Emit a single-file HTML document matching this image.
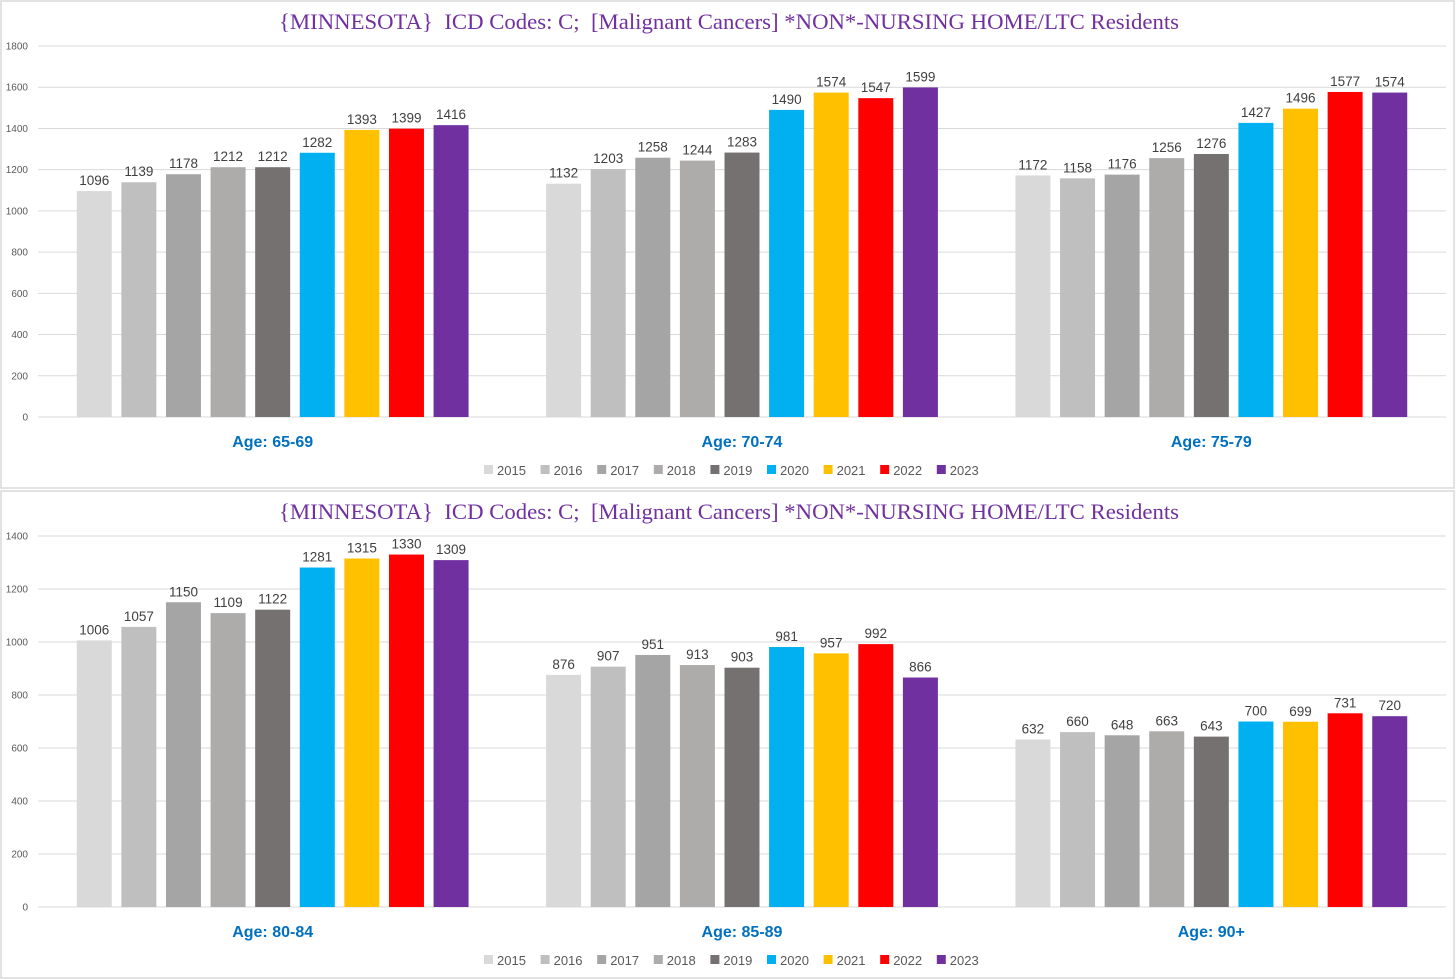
<!DOCTYPE html>
<html><head><meta charset="utf-8"><style>
html,body{margin:0;padding:0;background:#fff;}
svg{display:block;font-family:"Liberation Sans",sans-serif;}
</style></head><body>
<svg id="c" width="1456" height="979"></svg>
<script>
const years=["2015","2016","2017","2018","2019","2020","2021","2022","2023"];
const colors=["#D9D9D9","#BFBFBF","#A5A5A5","#AEABAB","#767171","#00B0F0","#FFC000","#FF0000","#7030A0"];
const topCats=["Age: 65-69","Age: 70-74","Age: 75-79"];
const topVals=[[1096,1139,1178,1212,1212,1282,1393,1399,1416],[1132,1203,1258,1244,1283,1490,1574,1547,1599],[1172,1158,1176,1256,1276,1427,1496,1577,1574]];
const topTicks=[0,200,400,600,800,1000,1200,1400,1600,1800];
const botCats=["Age: 80-84","Age: 85-89","Age: 90+"];
const botVals=[[1006,1057,1150,1109,1122,1281,1315,1330,1309],[876,907,951,913,903,981,957,992,866],[632,660,648,663,643,700,699,731,720]];
const botTicks=[0,200,400,600,800,1000,1200,1400];
const title="{MINNESOTA}  ICD Codes: C;  [Malignant Cancers] *NON*-NURSING HOME/LTC Residents";
const NS="http://www.w3.org/2000/svg";
const svg=document.getElementById('c');
function mk(tag,attrs,parent,text){const e=document.createElementNS(NS,tag);for(const k in attrs)e.setAttribute(k,attrs[k]);if(text!==undefined)e.textContent=text;(parent||svg).appendChild(e);return e;}
function panel(py,ph,cats,vals,ticks,y0,yTop,name){
  const g=mk('g',{});
  
  
  const bg=mk('rect',{x:1,y:py+1,width:1453,height:ph-2,fill:'#fff',stroke:'#d9d9d9','stroke-width':1.5},g);
  
  
  const t=mk('text',{x:729,y:py+29,'text-anchor':'middle','font-family':'"Liberation Serif",serif','font-size':22,fill:'#7030A0',style:'white-space:pre','textLength':900,'lengthAdjust':'spacingAndGlyphs'},g,title);
  
  
  const maxT=ticks[ticks.length-1];
  const yS=v=>y0-(v/maxT)*(y0-yTop);
  const xL=38,xR=1446,cw=(xR-xL)/3;
  ticks.forEach(v=>{
    const l=mk('line',{x1:xL,x2:xR,y1:yS(v),y2:yS(v),stroke:'#d9d9d9','stroke-width':1},g);
    
    
    const tx=mk('text',{x:28,y:yS(v)+3.5,'text-anchor':'end','font-size':10,fill:'#595959'},g,String(v));
    
    
  });
  const pitch=44.6,bw=35;
  cats.forEach((c,ci)=>{
    const cx=xL+cw*ci+cw/2;
    const start=cx-(pitch*8+bw)/2;
    vals[ci].forEach((v,i)=>{
      const x=start+i*pitch;
      const r=mk('rect',{x:x,y:yS(v),width:bw,height:y0-yS(v),fill:colors[i]},g);
      
      
      const lb=mk('text',{x:x+bw/2,y:yS(v)-6,'text-anchor':'middle','font-size':13.5,fill:'#404040'},g,String(v));
      
      
    });
    const cl=mk('text',{x:cx,y:y0+30,'text-anchor':'middle','font-size':16,'font-weight':'bold',fill:'#0070C0'},g,c);
    
    
  });
  const ly=y0+58;
  years.forEach((yr,i)=>{
    const lx=484+i*56.6;
    const e=mk('g',{},g);
    
    
    mk('rect',{x:lx,y:ly-10,width:9,height:9,fill:colors[i]},e);
    mk('text',{x:lx+13,y:ly,'font-size':13,fill:'#595959'},e,yr);
  });
}
panel(0,489,topCats,topVals,topTicks,417,46,'top-chart');
panel(490,489,botCats,botVals,botTicks,907,536,'bottom-chart');
</script>
</body></html>
